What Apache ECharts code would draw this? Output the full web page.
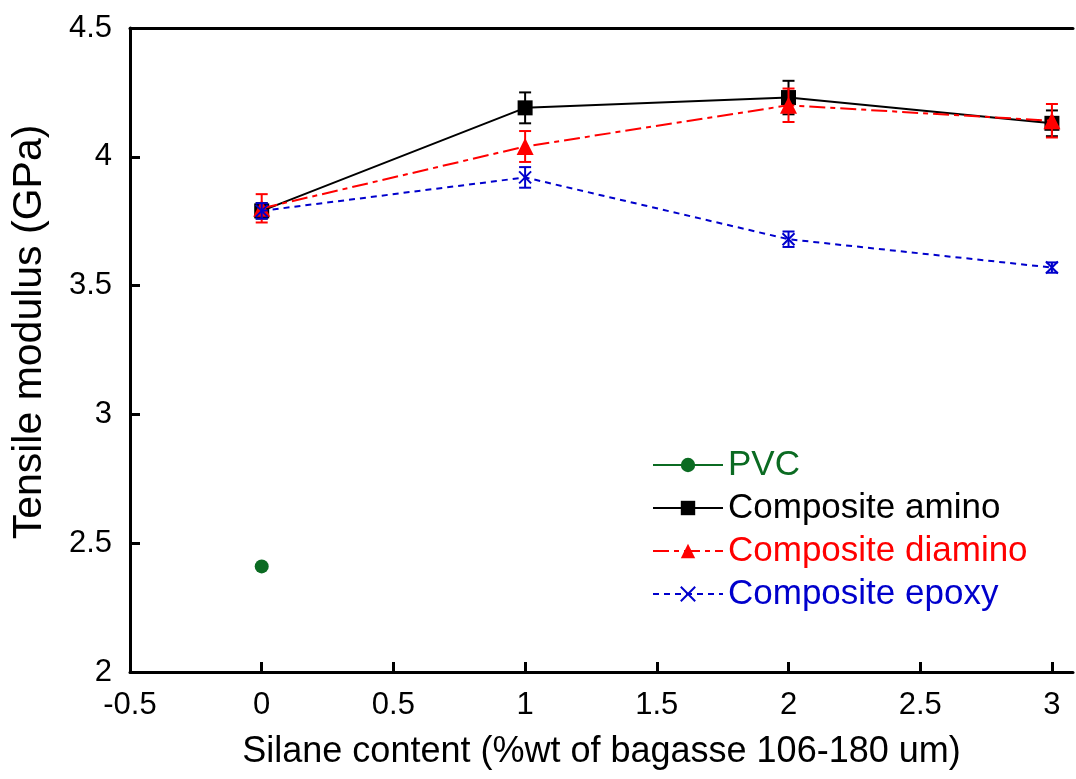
<!DOCTYPE html>
<html>
<head>
<meta charset="utf-8">
<script src="https://cdn.jsdelivr.net/npm/echarts@6/dist/echarts.min.js"></script>
<style>
html,body{margin:0;padding:0;background:#fff;}
#chart{width:1076px;height:779px;}
</style>
</head>
<body>
<div id="chart"></div>
<script>
// ---- data ----
const silane = [0, 1, 2, 3];
const pvcX = [0];
const pvc = [2.41];
const amino = [3.79, 4.19, 4.23, 4.13];
const aminoErr = [0.03, 0.06, 0.065, 0.05];
const diamino = [3.80, 4.04, 4.20, 4.14];
const diaminoErr = [0.055, 0.06, 0.065, 0.065];
const epoxy = [3.79, 3.92, 3.68, 3.57];
const epoxyErr = [0.03, 0.04, 0.03, 0.02];
const xTicks = [-0.5, 0, 0.5, 1, 1.5, 2, 2.5, 3];
const yTicks = [2, 2.5, 3, 3.5, 4, 4.5];

const FONT = 'Liberation Sans, Arial, sans-serif';
const C_PVC = '#0b6b22', C_AM = '#000000', C_DI = '#ff0000', C_EP = '#0000cc';

function pts(xs, ys){ return xs.map((x,i)=>[x, ys[i]]); }
function errs(xs, ys, es){ return xs.map((x,i)=>[x, ys[i]-es[i], ys[i]+es[i]]); }

function errSeries(name, data, color, z){
  return {
    type:'custom', name:name, z:z, silent:true,
    encode:{x:0, y:[1,2]},
    data:data,
    renderItem:function(params, api){
      const x = api.value(0), lo = api.value(1), hi = api.value(2);
      const a = api.coord([x, hi]), b = api.coord([x, lo]);
      const w = 6, st = {stroke:color, lineWidth:2};
      return {type:'group', children:[
        {type:'line', shape:{x1:a[0], y1:a[1], x2:b[0], y2:b[1]}, style:st},
        {type:'line', shape:{x1:a[0]-w, y1:a[1], x2:a[0]+w, y2:a[1]}, style:st},
        {type:'line', shape:{x1:b[0]-w, y1:b[1], x2:b[0]+w, y2:b[1]}, style:st}
      ]};
    }
  };
}

function labelFmt(list){
  return function(v){ const r = Math.round(v*100)/100; return list.indexOf(r) >= 0 ? String(r) : ''; };
}

const chart = echarts.init(document.getElementById('chart'), null, {renderer:'canvas'});
chart.setOption({
  animation:false,
  backgroundColor:'#ffffff',
  textStyle:{fontFamily:FONT},
  grid:{left:130, top:28, right:-2, bottom:107, show:false},
  legend:{
    orient:'vertical', left:647, top:442,
    itemWidth:70, itemHeight:18, itemGap:7,
    textStyle:{fontSize:35, lineHeight:36, fontFamily:FONT},
    data:[
      {name:'PVC', textStyle:{color:C_PVC}},
      {name:'Composite amino', textStyle:{color:C_AM}},
      {name:'Composite diamino', textStyle:{color:C_DI}},
      {name:'Composite epoxy', textStyle:{color:C_EP}}
    ]
  },
  xAxis:[{
    type:'value', min:-0.5, max:3.08, interval:0.5, position:'bottom',
    name:'Silane content (%wt of bagasse 106-180 um)',
    nameLocation:'middle', nameGap:62,
    nameTextStyle:{fontSize:36, color:'#000', fontFamily:FONT},
    axisLine:{onZero:false, lineStyle:{color:'#000', width:3}},
    axisTick:{inside:true, length:10, lineStyle:{color:'#000', width:3},
      customValues:xTicks},
    axisLabel:{fontSize:31, color:'#000', margin:18, fontFamily:FONT, formatter:labelFmt(xTicks)},
    splitLine:{show:false}
  },{
    type:'value', min:-0.5, max:3.08, position:'top',
    axisLine:{show:true, onZero:false, lineStyle:{color:'#000', width:3}},
    axisTick:{show:false}, axisLabel:{show:false}, splitLine:{show:false}
  }],
  yAxis:{
    type:'value', min:2, max:4.5, interval:0.5,
    name:'Tensile modulus (GPa)',
    nameLocation:'middle', nameGap:80,
    nameTextStyle:{fontSize:41, color:'#000', fontFamily:FONT, padding:[0,0,0,36]},
    axisLine:{onZero:false, lineStyle:{color:'#000', width:3}},
    axisTick:{inside:true, length:10, lineStyle:{color:'#000', width:3}},
    axisLabel:{fontSize:31, color:'#000', margin:18, fontFamily:FONT, formatter:labelFmt(yTicks)},
    splitLine:{show:false}
  },
  series:[
    {type:'line', name:'PVC', data:pts(pvcX, pvc), z:10,
      symbol:'circle', symbolSize:14, itemStyle:{color:C_PVC},
      lineStyle:{color:C_PVC, width:2}},
    errSeries('amino err', errs(silane, amino, aminoErr), C_AM, 11),
    {type:'line', name:'Composite amino', data:pts(silane, amino), z:12,
      symbol:'rect', symbolSize:15, itemStyle:{color:C_AM},
      lineStyle:{color:C_AM, width:2}},
    errSeries('diamino err', errs(silane, diamino, diaminoErr), C_DI, 13),
    {type:'line', name:'Composite diamino', data:pts(silane, diamino), z:14,
      symbol:'triangle', symbolSize:17, itemStyle:{color:C_DI},
      lineStyle:{color:C_DI, width:2, type:[16,5,5,5]}},
    errSeries('epoxy err', errs(silane, epoxy, epoxyErr), C_EP, 15),
    {type:'line', name:'Composite epoxy', data:pts(silane, epoxy), z:16,
      symbol:'path://M0,0L10,10M10,0L0,10', symbolSize:12,
      itemStyle:{color:C_EP, borderColor:C_EP, borderWidth:2},
      lineStyle:{color:C_EP, width:2, type:[6,5]}}
  ]
});
</script>
</body>
</html>
